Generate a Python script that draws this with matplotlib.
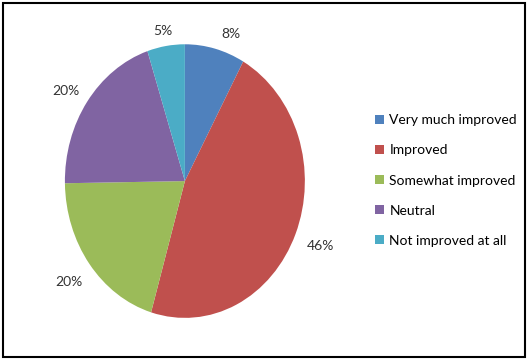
import matplotlib.pyplot as plt
from matplotlib.patches import Rectangle
import numpy as np

# Datos del grafico
categorias = ['Very much improved', 'Improved', 'Somewhat improved', 'Neutral', 'Not improved at all']
valores = [8, 46, 20, 20, 5]
colores = ['#4F81BD', '#C0504D', '#9BBB59', '#8064A2', '#4BACC6']
# pequeños ajustes de posicion de las etiquetas (pixeles)
ajustes = [(11, -6), (0, 0), (0, 0), (0, -7), (0, -5)]

plt.rcParams['font.family'] = ['Lato', 'DejaVu Sans']

fig = plt.figure(figsize=(5.29, 3.6), dpi=100)
ax = fig.add_axes([0.066, 0.022, 0.567, 0.95])

wedges, texts = ax.pie(valores, colors=colores, startangle=90, counterclock=False,
                       labels=[f'{v}%' for v in valores], labeldistance=1.1,
                       textprops={'fontsize': 10, 'color': '#333333'})

ax.set_aspect('auto')
ax.set_xlim(-1.25, 1.25)
ax.set_ylim(-1.25, 1.25)

# Etiquetas fuera del pastel, con un hueco desde el borde (estilo Excel)
renderer = fig.canvas.get_renderer()
cx, cy = ax.transData.transform((0, 0))
for w, t, (ax_px, ay_px) in zip(wedges, texts, ajustes):
    t.set_ha('center')
    t.set_va('center')
    ang = np.deg2rad((w.theta1 + w.theta2) / 2)
    ex, ey = ax.transData.transform((np.cos(ang), np.sin(ang)))
    vx, vy = ex - cx, ey - cy
    r = np.hypot(vx, vy)
    ux, uy = vx / r, vy / r
    bb = t.get_window_extent(renderer)
    gap = 13 + abs(ux) * bb.width / 2 + abs(uy) * bb.height / 2
    px = ex + ux * gap + ax_px
    py = ey + uy * gap + ay_px
    t.set_position(ax.transData.inverted().transform((px, py)))

ax.legend(wedges, categorias, loc='center left', bbox_to_anchor=(0.686, 0.4986),
          bbox_transform=fig.transFigure,
          frameon=False, fontsize=10, handlelength=0.6, handleheight=0.6,
          handletextpad=0.4, labelspacing=1.3)

# marco exterior
fig.patches.append(Rectangle((0.006, 0.008), 0.987, 0.983, transform=fig.transFigure,
                             fill=False, edgecolor='black', lw=1.5))

fig.savefig('out.png', dpi=100)
